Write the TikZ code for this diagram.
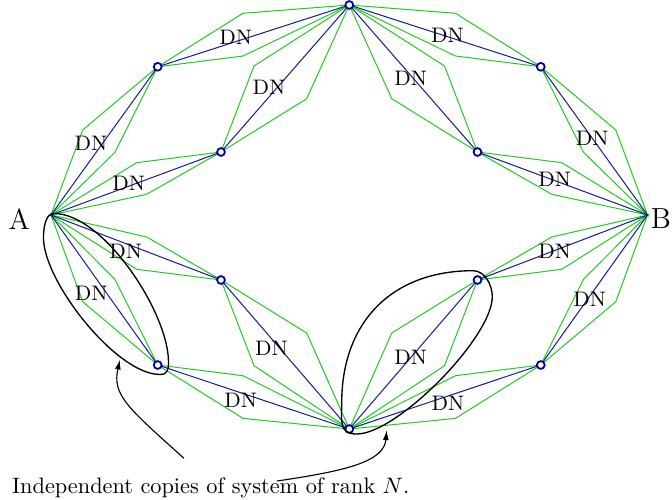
\documentclass[tikz,border=0pt]{standalone}
\usetikzlibrary{arrows.meta}
\definecolor{gr}{rgb}{0.13,0.8,0.13}
\definecolor{bl}{rgb}{0.1,0.1,0.6}
\definecolor{vb}{rgb}{0,0,0.62}
\newcommand\gquad[4]{\draw[gline] (#1) -- (#3) -- (#2) -- (#4) -- cycle;}
\begin{document}
\begin{tikzpicture}[x=0.448pt,y=-0.448pt,
  gline/.style={draw=gr,line width=0.45pt},
  bline/.style={draw=bl,line width=0.45pt},
  vtx/.style={circle,draw=vb,fill=white,line width=0.8pt,minimum size=3.5pt,inner sep=0pt},
  lbl/.style={inner sep=0pt,font=\fontsize{9.4}{11}\selectfont},
  big/.style={inner sep=0pt,font=\fontsize{13}{15}\selectfont},
  ell/.style={draw=black,line width=0.6pt},
  arr/.style={draw=black,line width=0.5pt,-{Latex[length=4.5pt,width=2.6pt]}}]
\useasboundingbox (0,0) rectangle (672,500);
% vertices
\coordinate (A) at (51,215);
\coordinate (B) at (647.5,215);
\coordinate (T) at (349.3,5);
\coordinate (Bot) at (349.3,429);
\coordinate (UL1) at (157.7,66.8);
\coordinate (UL2) at (221,152);
\coordinate (UR1) at (540.8,66.8);
\coordinate (UR2) at (477.5,152);
\coordinate (LL1) at (221,280);
\coordinate (LL2) at (157.7,365);
\coordinate (LR1) at (477.5,280);
\coordinate (LR2) at (540.8,365);
% green outlines
\gquad{A}{UL1}{82.7,130}{115,152.3}
\gquad{UL1}{T}{243,13.3}{243,56}
\gquad{A}{UL2}{136.7,162.7}{146.7,194.3}
\gquad{UL2}{T}{254,66}{306.7,98.7}
\gquad{T}{UR1}{455.5,13.3}{455.5,56}
\gquad{UR1}{B}{615.8,130}{583.5,152.3}
\gquad{T}{UR2}{444.5,66}{391.8,98.7}
\gquad{UR2}{B}{561.8,162.7}{551.8,194.3}
\gquad{A}{LL1}{146.7,237}{136.7,269.3}
\gquad{A}{LL2}{82.7,301.7}{115,279.4}
\gquad{LL1}{Bot}{254,365.7}{306.7,333}
\gquad{LL2}{Bot}{243,418.4}{243,375.7}
\gquad{LR1}{B}{551.8,237}{561.8,269.3}
\gquad{LR2}{B}{615.8,301.7}{583.5,279.4}
\gquad{Bot}{LR1}{444.5,365.7}{391.8,333}
\gquad{Bot}{LR2}{455.5,418.4}{455.5,375.7}
% blue edges
\draw[bline] (A) -- (UL1) -- (T) -- (UR1) -- (B);
\draw[bline] (A) -- (UL2) -- (T) -- (UR2) -- (B);
\draw[bline] (A) -- (LL1) -- (Bot) -- (LR1) -- (B);
\draw[bline] (A) -- (LL2) -- (Bot) -- (LR2) -- (B);
% labels
\node[lbl] (d1) at (235.8,37.3) {DN};
\node[lbl] (d2) at (269,87.4) {DN};
\node[lbl] (d3) at (91,143.3) {DN};
\node[lbl] (d4) at (128.7,183.3) {DN};
\node[lbl] (d5) at (447.5,35) {DN};
\node[lbl] (d6) at (410.7,78) {DN};
\node[lbl] (d7) at (592.2,138.8) {DN};
\node[lbl] (d8) at (554.7,179.3) {DN};
\node[lbl] (d9) at (125.8,251.3) {DN};
\node[lbl] (d10) at (91.2,293.3) {DN};
\node[lbl] (d11) at (271.5,348) {DN};
\node[lbl] (d12) at (240.8,400) {DN};
\node[lbl] (d13) at (410.7,357.3) {DN};
\node[lbl] (d14) at (554.8,251.3) {DN};
\node[lbl] (d15) at (448,403.3) {DN};
\node[lbl] (d16) at (589.7,299) {DN};
\node[big] (la) at (19.2,219.2) {A};
\node[big,anchor=east] (lb) at (671.5,218.5) {B};
% vertex circles
\foreach \v in {T,Bot,UL1,UL2,UR1,UR2,LL1,LL2,LR1,LR2}
  \node[vtx] (c\v) at (\v) {};
% ellipses
\draw[ell] (43.5,238) .. controls (43.5,229) and (45,213.5) .. (54,213.5)
  .. controls (103.4,213.5) and (168.5,312.6) .. (168.5,362)
  .. controls (168.5,369.7) and (167.7,374.5) .. (160,374.5)
  .. controls (116.5,374.5) and (43.5,281.5) .. cycle;
\draw[ell] (341.7,403) .. controls (341.7,322) and (392,270.7) .. (473,270.7)
  .. controls (484.8,270.7) and (492.3,284.9) .. (492.3,296.7)
  .. controls (492.3,337.2) and (397.2,434) .. (356.7,434)
  .. controls (338.7,434) and (341.7,421) .. cycle;
% caption and arrows
\node[inner sep=0pt,anchor=base west,font=\fontsize{10}{12}\selectfont] (cap) at (11.7,493.3) {Independent copies of system of rank $N$.};
\coordinate (a1s) at (184,458.3);
\coordinate (a1e) at (120,359.5);
\coordinate (a2s) at (277,481);
\coordinate (a2e) at (386.7,430);
\draw[arr] (a1s) .. controls (128,408) and (112,395) .. (a1e);
\draw[arr] (a2s) .. controls (345,471) and (384,462) .. (a2e);
\end{tikzpicture}
\end{document}
